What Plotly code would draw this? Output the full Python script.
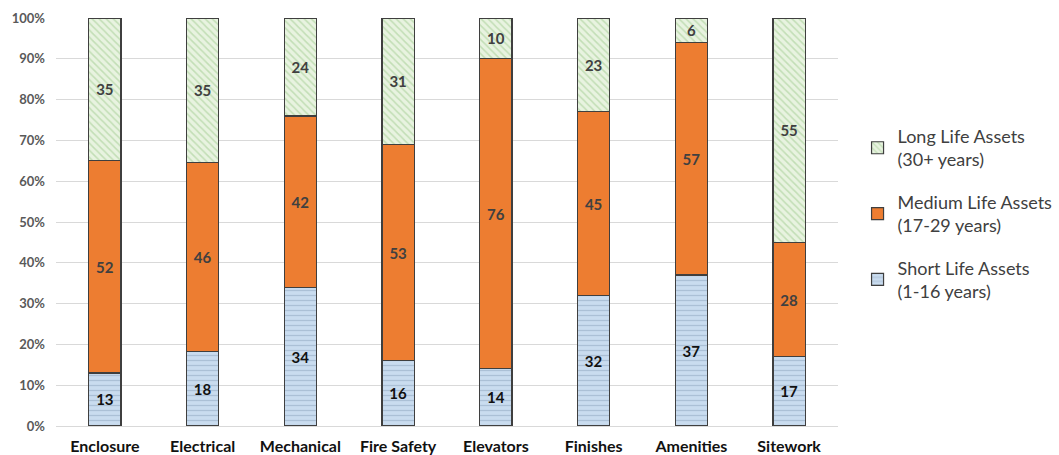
import plotly.graph_objects as go

categories = ["Enclosure", "Electrical", "Mechanical", "Fire Safety", "Elevators", "Finishes", "Amenities", "Sitework"]
short_life = [13, 18, 34, 16, 14, 32, 37, 17]
medium_life = [52, 46, 42, 53, 76, 45, 57, 28]
long_life = [35, 35, 24, 31, 10, 23, 6, 55]

FONT = "Lato"
line = dict(color="#3f3f3f", width=1.2)

fig = go.Figure()
fig.add_trace(go.Bar(
    x=categories, y=short_life, name="Short Life Assets<br>(1-16 years)", legendgroup="short", legendrank=3,
    text=short_life, textposition="inside", insidetextanchor="middle", textangle=0,
    textfont=dict(family=FONT, size=15, color="#111111", weight="bold"),
    marker=dict(color="#c9dcef", line=line,
                pattern=dict(shape="-", fgcolor="#8ea4bd", bgcolor="#c9dcef", size=5, solidity=0.25)),
))
fig.add_trace(go.Bar(
    x=categories, y=medium_life, name="Medium Life Assets<br>(17-29 years)", legendgroup="medium", legendrank=2,
    text=medium_life, textposition="inside", insidetextanchor="middle", textangle=0,
    textfont=dict(family=FONT, size=15, color="#404040", weight="bold"),
    marker=dict(color="#ed7d31", line=line),
))
fig.add_trace(go.Bar(
    x=categories, y=long_life, name="Long Life Assets<br>(30+ years)", legendgroup="long", legendrank=1,
    text=long_life, textposition="inside", insidetextanchor="middle", textangle=0,
    textfont=dict(family=FONT, size=15, color="#404040", weight="bold"),
    marker=dict(color="#e2f0d9", line=line,
                pattern=dict(shape="\\", fgcolor="#9cc98a", bgcolor="#e8f3e0", size=5, solidity=0.3)),
))

fig.update_layout(
    barmode="stack", barnorm="percent", bargap=0.67,
    width=1059, height=455,
    margin=dict(l=56, r=221, t=18, b=29, autoexpand=False),
    paper_bgcolor="white", plot_bgcolor="white",
    uniformtext=dict(mode=False),
    legend=dict(x=1.025, y=0.52, xanchor="left", yanchor="middle",
                traceorder="grouped", tracegroupgap=16,
                font=dict(family=FONT, size=18, color="#404040")),
    font=dict(family=FONT),
)
fig.update_xaxes(tickfont=dict(family=FONT, size=16, color="#111111", weight="bold"),
                 showgrid=False, showline=True, linecolor="#d9d9d9", ticks="",
                 automargin=False, ticklabelstandoff=6)
fig.update_yaxes(range=[0, 100], dtick=10, ticksuffix="%", showgrid=True, gridcolor="#d9d9d9",
                 tickfont=dict(family=FONT, size=13, color="#595959", weight="bold"),
                 zeroline=False, ticks="", automargin=False, ticklabelstandoff=10)

fig.write_html("out.html")
